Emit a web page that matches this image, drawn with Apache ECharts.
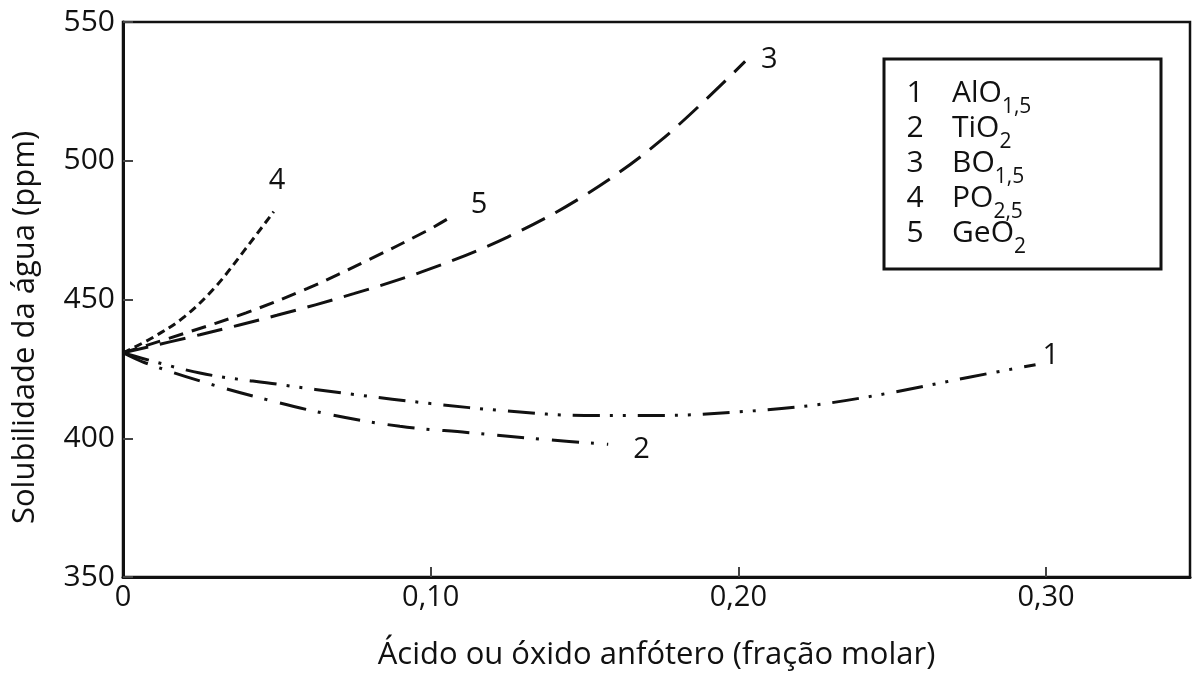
<!DOCTYPE html>
<html>
<head>
<meta charset="utf-8">
<script src="https://cdn.jsdelivr.net/npm/echarts@6/dist/echarts.min.js"></script>
<style>
  html, body { margin: 0; padding: 0; background: #fff; }
  #chart { width: 1193px; height: 678px; }
</style>
</head>
<body>
<div id="chart"></div>
<script>
// Water solubility vs. molar fraction of added acid / amphoteric oxide
const FONT = 'Open Sans';

const xTickValues = [0, 0.1, 0.2, 0.3];
const xTickLabels = ['0', '0,10', '0,20', '0,30'];
const yTickLabels = ['350', '400', '450', '500', '550'];

// [molar fraction, solubility ppm]
const alo15 = [[0, 430.8], [0.025, 423.5], [0.05, 419.5], [0.075, 415.8], [0.1, 412.5],
  [0.125, 409.8], [0.15, 408.2], [0.175, 408.2], [0.2, 409.5], [0.225, 412.0],
  [0.25, 416.5], [0.275, 422.0], [0.2966, 426.5]];
const tio2 = [[0, 430.8], [0.0069, 427.3], [0.0266, 420.1], [0.0464, 414.0], [0.0671, 408.6],
  [0.0900, 404.3], [0.1118, 402.1], [0.1368, 399.6], [0.1577, 397.8]];
const bo15 = [[0, 430.8], [0.025, 437.3], [0.05, 444.3], [0.075, 452.1], [0.1, 461.1],
  [0.125, 472.5], [0.15, 487.5], [0.175, 507.5], [0.2022, 535.8]];
const po25 = [[0, 430.8], [0.01, 436.5], [0.02, 443.8], [0.03, 454.5], [0.04, 468.5], [0.049, 481.7]];
const geo2 = [[0, 430.8], [0.02, 437.8], [0.04, 445.2], [0.06, 454.0], [0.08, 464.4],
  [0.0983, 474.5], [0.1062, 479.5]];

const curveIds = ['1', '2', '3', '4', '5'];
const curveData = [alo15, tio2, bo15, po25, geo2];
const legendNums = ['1', '2', '3', '4', '5'];
const legendMain = ['AlO', 'TiO', 'BO', 'PO', 'GeO'];
const legendSub = ['1,5', '2', '1,5', '2,5', '2'];

const dashes = [[27, 10, 3, 10, 3, 12], [27, 12, 3, 13], [26, 12], [8, 5], [15, 9]];
const endOffsets = [[-1, -9], [17, 5], [8, -2], [-13, -31], [13, -13]];

const chart = echarts.init(document.getElementById('chart'), null, { renderer: 'canvas' });

const series = curveData.map((d, i) => ({
  name: curveIds[i],
  type: 'line',
  data: d,
  smooth: 0.35,
  showSymbol: false,
  silent: true,
  lineStyle: { color: '#111', width: 3, type: dashes[i], cap: 'butt' },
  endLabel: {
    show: true,
    formatter: curveIds[i],
    offset: endOffsets[i],
    fontFamily: FONT,
    fontSize: 29,
    color: '#111'
  }
}));

// legend box with subscripted formulas
const ctx = document.createElement('canvas').getContext('2d');
const mainFont = '30px "' + FONT + '"';
const subFont = '21px "' + FONT + '"';
ctx.font = mainFont;
const boxX = 884, boxY = 59, boxW = 277, boxH = 210;
const rowY0 = 93, rowStep = 35;
const legendEls = [{
  type: 'rect',
  shape: { x: boxX, y: boxY, width: boxW, height: boxH },
  style: { fill: '#fff', stroke: '#111', lineWidth: 3 }
}];
legendNums.forEach((n, i) => {
  const y = rowY0 + i * rowStep;
  const w = ctx.measureText(legendMain[i]).width;
  legendEls.push({ type: 'text', x: 915, y: y,
    style: { text: n, font: mainFont, fill: '#111', align: 'center', verticalAlign: 'middle' } });
  legendEls.push({ type: 'text', x: 952, y: y,
    style: { text: legendMain[i], font: mainFont, fill: '#111', align: 'left', verticalAlign: 'middle' } });
  legendEls.push({ type: 'text', x: 952 + w, y: y + 14,
    style: { text: legendSub[i], font: subFont, fill: '#111', align: 'left', verticalAlign: 'middle' } });
});

chart.setOption({
  animation: false,
  backgroundColor: '#fff',
  grid: {
    left: 123, right: 3, top: 22, bottom: 101,
    show: true, borderColor: '#111', borderWidth: 2.5, backgroundColor: 'transparent'
  },
  xAxis: {
    type: 'value',
    min: 0,
    max: 0.3468,
    name: 'Ácido ou óxido anfótero (fração molar)',
    nameLocation: 'middle',
    nameGap: 63,
    nameTextStyle: { fontFamily: FONT, fontSize: 31, color: '#111' },
    axisLine: { show: true, lineStyle: { color: '#111', width: 3 } },
    axisTick: { show: true, inside: true, length: 10, customValues: xTickValues.slice(1),
      lineStyle: { color: '#444', width: 2 } },
    axisLabel: {
      customValues: xTickValues,
      formatter: v => xTickLabels[xTickValues.findIndex(t => Math.abs(t - v) < 1e-9)],
      fontFamily: FONT, fontSize: 29, color: '#111', margin: 6
    },
    splitLine: { show: false }
  },
  yAxis: {
    type: 'value',
    min: 350,
    max: 550,
    interval: 50,
    name: 'Solubilidade da água (ppm)',
    nameLocation: 'middle',
    nameGap: 82,
    nameTextStyle: { fontFamily: FONT, fontSize: 31, color: '#111', padding: [0, 56, 0, 0] },
    axisLine: { show: true, lineStyle: { color: '#111', width: 3 } },
    axisTick: { show: true, inside: true, length: 10, lineStyle: { color: '#444', width: 2 } },
    axisLabel: {
      formatter: v => yTickLabels[Math.round((v - 350) / 50)],
      fontFamily: FONT, fontSize: 30, color: '#111', margin: 8
    },
    splitLine: { show: false }
  },
  series: series,
  graphic: legendEls
});
</script>
</body>
</html>
